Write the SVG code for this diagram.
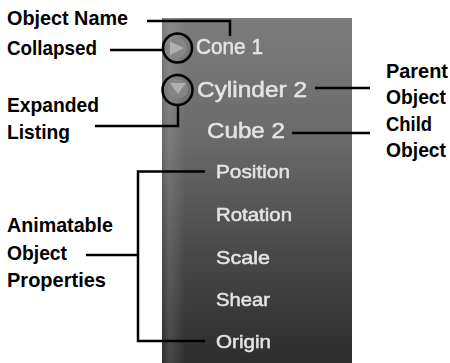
<svg xmlns="http://www.w3.org/2000/svg" width="450" height="363" viewBox="0 0 450 363">
<style>
.lbl{font-family:"Liberation Sans",Arial,sans-serif;font-weight:bold;font-size:21px;fill:#000}
.ui{font-family:"Liberation Sans",Arial,sans-serif;fill:#e4e4e4;stroke:#e4e4e4;stroke-width:0.5;filter:url(#soft)}
.ln{fill:none;stroke:#000;stroke-width:2.5}
.tri{fill:#b0b0b0}
.btn{fill:#858585}
</style>
<defs>
<linearGradient id="bg" x1="0" y1="0" x2="0" y2="1">
<stop offset="0" stop-color="#7c7c7c"/>
<stop offset="0.35" stop-color="#6a6a6a"/>
<stop offset="0.7" stop-color="#474747"/>
<stop offset="1" stop-color="#2d2d2d"/>
</linearGradient>
<linearGradient id="edge" x1="0" y1="0" x2="1" y2="0">
<stop offset="0" stop-color="#fff" stop-opacity="0"/>
<stop offset="0.3" stop-color="#fff" stop-opacity="0.12"/>
<stop offset="1" stop-color="#fff" stop-opacity="0"/>
</linearGradient>
<filter id="soft" x="-10%" y="-30%" width="120%" height="160%">
<feGaussianBlur stdDeviation="0.55"/>
</filter>
</defs>
<rect width="450" height="363" fill="#fff"/>
<g id="panel">
<rect x="162" y="18" width="190" height="345" fill="url(#bg)"/>
<rect x="162" y="18" width="24" height="345" fill="url(#edge)"/>
</g>
<g id="cone1">
<circle class="btn" cx="177" cy="48" r="10"/>
<polygon class="tri" points="170,41.5 170,55 184,48"/>
<text class="ui" x="196" y="53.5" font-size="22" textLength="67" lengthAdjust="spacingAndGlyphs">Cone 1</text>
</g>
<g id="cylinder2">
<circle class="btn" cx="178" cy="89" r="10"/>
<polygon class="tri" points="170,83 186,83 178,94"/>
<text class="ui" x="197" y="97" font-size="22" textLength="110" lengthAdjust="spacingAndGlyphs">Cylinder 2</text>
</g>
<g id="cube2">
<text class="ui" x="207" y="138" font-size="22" textLength="78" lengthAdjust="spacingAndGlyphs">Cube 2</text>
</g>
<g id="position"><text class="ui" x="216" y="178" font-size="19" textLength="74" lengthAdjust="spacingAndGlyphs">Position</text></g>
<g id="rotation"><text class="ui" x="216" y="221" font-size="19" textLength="76" lengthAdjust="spacingAndGlyphs">Rotation</text></g>
<g id="scale"><text class="ui" x="216" y="264" font-size="19" textLength="54" lengthAdjust="spacingAndGlyphs">Scale</text></g>
<g id="shear"><text class="ui" x="216" y="306" font-size="19" textLength="54" lengthAdjust="spacingAndGlyphs">Shear</text></g>
<g id="origin"><text class="ui" x="216" y="348" font-size="19" textLength="55" lengthAdjust="spacingAndGlyphs">Origin</text></g>

<g id="label-object-name"><text class="lbl" x="7" y="25" textLength="121" lengthAdjust="spacingAndGlyphs">Object Name</text></g>
<g id="label-collapsed"><text class="lbl" x="7" y="55" textLength="90" lengthAdjust="spacingAndGlyphs">Collapsed</text></g>
<g id="label-expanded">
<text class="lbl" x="7" y="112" textLength="92" lengthAdjust="spacingAndGlyphs">Expanded</text>
<text class="lbl" x="7" y="139" textLength="63" lengthAdjust="spacingAndGlyphs">Listing</text>
</g>
<g id="label-animatable">
<text class="lbl" x="7" y="232" textLength="106" lengthAdjust="spacingAndGlyphs">Animatable</text>
<text class="lbl" x="7" y="259.5" textLength="60" lengthAdjust="spacingAndGlyphs">Object</text>
<text class="lbl" x="7" y="287" textLength="99" lengthAdjust="spacingAndGlyphs">Properties</text>
</g>
<g id="label-parent">
<text class="lbl" x="386" y="78" textLength="62" lengthAdjust="spacingAndGlyphs">Parent</text>
<text class="lbl" x="386" y="104" textLength="60" lengthAdjust="spacingAndGlyphs">Object</text>
</g>
<g id="label-child">
<text class="lbl" x="386" y="131" textLength="46" lengthAdjust="spacingAndGlyphs">Child</text>
<text class="lbl" x="386" y="157" textLength="60" lengthAdjust="spacingAndGlyphs">Object</text>
</g>

<g id="connectors">
<polyline class="ln" points="147,21 230,21 230,36"/>
<line class="ln" x1="110" y1="50" x2="163" y2="50"/>
<circle class="ln" cx="177.5" cy="48" r="14.5"/>
<circle class="ln" cx="177.5" cy="90" r="15"/>
<polyline class="ln" points="95,126 178,126 178,105"/>
<line class="ln" x1="315" y1="88" x2="370" y2="88"/>
<line class="ln" x1="292" y1="133" x2="370" y2="133"/>
<polyline class="ln" points="205,171.5 138,171.5 138,341 205,341"/>
<line class="ln" x1="86" y1="255" x2="138" y2="255"/>
</g>
</svg>
